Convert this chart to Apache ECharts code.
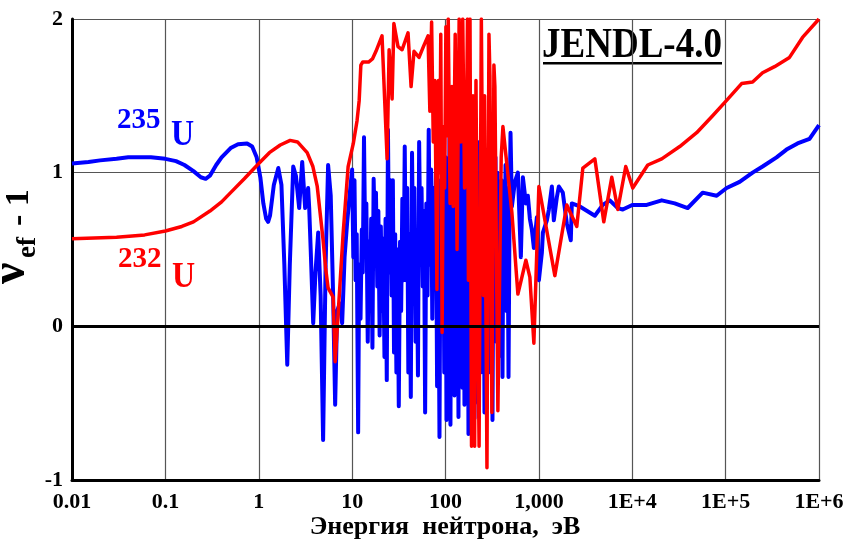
<!DOCTYPE html>
<html>
<head>
<meta charset="utf-8">
<script src="https://cdn.jsdelivr.net/npm/echarts@6/dist/echarts.min.js"></script>
<style>
  html, body { margin: 0; padding: 0; background: #fff; }
  #chart { width: 847px; height: 549px; }
</style>
</head>
<body>
<div id="chart"></div>
<script>
// Neutron energy grid (eV) and nu_ef - 1 values for U-235 (JENDL-4.0)
const u235Energy = [0.01,0.015,0.02,0.03,0.04,0.055,0.07,0.1,0.13,0.16,0.2,0.24,0.27,0.3,0.35,0.4,0.5,0.6,0.75,0.85,0.95,1.04,1.12,1.2,1.26,1.32,1.45,1.62,1.75,1.88,2.02,2.15,2.34,2.5,2.71,2.92,3.14,3.38,3.47,3.6,3.83,4.05,4.33,4.6,4.89,5.2,5.53,5.9,6.26,6.58,6.91,7.4,7.82,8.3,8.83,9.52,
  10.0,10.3,10.6,10.9,11.2,11.6,11.9,12.3,12.7,13.0,13.4,13.8,14.2,14.7,15.1,15.6,16.0,16.5,17.0,17.5,18.0,18.6,19.1,19.7,20.3,20.9,21.5,22.2,22.8,23.5,24.2,24.9,25.7,26.5,27.3,28.1,28.9,29.8,30.7,31.6,32.6,33.5,34.5,35.6,36.6,37.7,38.9,40.0,41.2,42.5,43.8,45.1,46.4,47.8,49.2,50.7,52.2,53.8,55.4,57.1,58.8,60.5,62.3,64.2,66.1,68.1,70.1,72.2,74.4,76.6,78.9,81.3,83.7,86.2,88.8,91.5,94.2,97.0,
  100,102.5,105,107.6,110.3,113,115.8,118.7,121.7,124.8,127.9,131,134.3,137.7,141.1,144.6,148.2,151.9,155.7,159.6,163.6,167.7,171.9,176.2,180.6,185.1,189.7,194.4,199.3,204.3,209.4,214.6,220,225.5,231.1,236.9,242.8,248.9,255.1,261.5,268,274.7,281.6,288.6,295.8,303.2,310.8,318.6,326.6,334.7,343.1,351.7,360.5,369.5,378.7,388.2,397.9,407.8,418,428.5,439.2,450.2,461.4,473,484.8,497,
  514,553,596,641,674,726,762,801,841,884,952,1000,1077,1104,1218,1280,1378,1446,1558,1636,1805,1991,2198,2253,2746,3975,4834,5743,6998,7910,10000,14290,20690,28510,39260,56780,80170,102500,141200,194500,248800,351000,448700,588600,791400,1000000];
const u235Value = [1.06,1.07,1.08,1.09,1.10,1.10,1.10,1.09,1.075,1.05,1.01,0.97,0.96,0.98,1.05,1.10,1.16,1.185,1.19,1.17,1.10,0.97,0.80,0.70,0.68,0.72,0.92,1.03,0.92,0.40,-0.25,0.40,1.04,0.98,0.77,1.07,0.77,0.90,0.77,0.50,0.02,0.35,0.61,0.20,-0.74,0.40,1.05,0.85,0.20,-0.51,0.10,0.15,0.02,0.45,0.67,0.89,
  1.02,0.45,0.95,0.30,0.60,-0.69,0.40,0.05,0.63,0.35,1.23,0.55,0.80,-0.10,0.55,0.15,0.70,-0.14,0.96,0.60,0.87,0.26,0.75,-0.06,0.65,0.10,0.57,-0.20,0.70,-0.35,1.28,0.35,0.95,0.20,0.95,-0.17,0.60,-0.30,0.50,-0.52,0.55,0.10,0.83,0.30,1.17,0.30,0.90,-0.30,0.60,-0.46,1.13,0.40,0.90,-0.10,0.60,-0.32,1.20,0.50,0.90,0.26,0.75,-0.56,0.80,0.20,1.28,0.40,1.02,0.05,0.90,0.30,1.00,-0.39,0.70,-0.72,0.95,0.20,1.20,-0.30,
  1.10,-0.61,0.90,-0.20,1.25,-0.64,1.00,0.10,1.30,-0.45,1.10,-0.30,0.90,-0.59,1.20,0.20,1.15,-0.40,1.28,-0.51,0.80,-0.20,1.20,-0.70,1.10,-0.40,1.30,0.00,0.90,-0.60,1.30,0.30,1.00,-0.50,1.20,-0.30,1.10,0.20,0.90,-0.56,1.15,0.10,0.90,-0.20,1.10,-0.30,0.90,-0.61,0.80,0.20,1.10,-0.10,1.00,-0.20,0.80,0.10,0.95,-0.33,0.90,0.30,1.05,0.10,0.90,-0.33,0.70,1.26,
  0.78,0.94,1.00,0.45,0.97,0.80,0.85,0.70,0.63,0.51,0.71,0.30,0.48,0.61,0.69,0.76,0.91,0.69,0.84,0.91,0.87,0.67,0.56,0.80,0.78,0.72,0.79,0.82,0.77,0.76,0.79,0.79,0.82,0.80,0.77,0.87,0.85,0.90,0.94,1.00,1.04,1.10,1.15,1.19,1.22,1.31];

// Neutron energy grid (eV) and nu_ef - 1 values for U-232 (JENDL-4.0)
const u232Energy = [0.01,0.03,0.06,0.1,0.15,0.2,0.3,0.4,0.5,0.7,1.0,1.3,1.7,2.17,2.6,3.3,3.8,4.23,4.89,5.2,5.53,6.26,6.58,7.08,8.0,9.06,10.3,11.3,11.9,12.4,13,15,16.5,18.0,20.9,23.7,24.9,26.8,28.0,31.0,34.3,39.7,42.8,46,52.1,58,
  65,68,71,74,77,81,84,87,89,92,95,98,101,104,107,112,117,121,127,133,140,146,153,160,168,172,176,183,190,197,205,212,220,229,242,255,262,278,292,299,314,330,338,364,395,412,
  514,596,726,801,884,1000,1483,1991,2547,2956,3975,4955,6037,6998,8518,10120,14660,20690,32240,48980,72600,102500,148300,194500,248800,334300,483100,666200,1000000];
const u232Value = [0.57,0.58,0.595,0.62,0.65,0.68,0.75,0.81,0.87,0.96,1.06,1.13,1.18,1.21,1.20,1.13,1.04,0.91,0.56,0.38,0.25,0.19,-0.23,0.08,0.60,1.04,1.19,1.34,1.47,1.70,1.72,1.72,1.74,1.79,1.89,1.09,1.80,1.48,1.97,1.82,1.80,1.91,1.56,1.79,1.75,1.82,
  1.89,1.40,1.98,1.20,1.60,0.24,1.60,1.00,1.90,-0.04,1.30,0.90,1.95,1.24,2.00,0.80,1.56,0.78,1.90,0.50,2.00,1.20,2.00,0.90,1.35,2.00,0.30,2.00,-0.78,1.50,-0.78,1.60,0.17,-0.78,2.00,0.20,1.50,-0.92,1.90,1.63,-0.56,1.70,1.56,-0.55,1.10,1.30,
  0.74,0.21,0.43,0.32,-0.11,0.91,0.33,0.79,0.65,1.03,1.09,0.68,0.97,0.76,1.04,0.90,1.05,1.09,1.17,1.26,1.37,1.47,1.58,1.59,1.65,1.69,1.75,1.88,2.00];

// Axis tick labels
const xTickLabels = ['0.01','0.1','1','10','100','1,000','1E+4','1E+5','1E+6'];
const yTickLabels = {'-1':'-1','0':'0','1':'1','2':'2'};

const FONT = "'Liberation Serif', 'Times New Roman', serif";

function zip(xs, ys) { return xs.map((x, i) => [x, ys[i]]); }

const chart = echarts.init(document.getElementById('chart'), null, { renderer: 'canvas' });

chart.setOption({
  animation: false,
  backgroundColor: '#ffffff',
  grid: { left: 72, right: 28, top: 19, bottom: 69 },
  xAxis: {
    type: 'log',
    logBase: 10,
    min: 0.01,
    max: 1e6,
    axisLine: { show: true, onZero: false, lineStyle: { color: '#000', width: 3 } },
    axisTick: { show: false },
    minorTick: { show: false },
    splitLine: { show: true, lineStyle: { color: '#555', width: 1.2 } },
    axisLabel: {
      margin: 11,
      color: '#000',
      fontFamily: FONT,
      fontWeight: 'bold',
      fontSize: 22,
      showMinLabel: true,
      showMaxLabel: true,
      formatter: v => xTickLabels[Math.round(Math.log10(v)) + 2]
    }
  },
  yAxis: {
    type: 'value',
    min: -1,
    max: 2,
    interval: 1,
    axisLine: { show: true, onZero: false, lineStyle: { color: '#000', width: 3 } },
    axisTick: { show: false },
    splitLine: { show: true, lineStyle: { color: '#555', width: 1.2 } },
    axisLabel: {
      margin: 9,
      color: '#000',
      fontFamily: FONT,
      fontWeight: 'bold',
      fontSize: 22,
      formatter: v => yTickLabels[String(Math.round(v))]
    }
  },
  series: [
    {
      name: '235U',
      type: 'line',
      data: zip(u235Energy, u235Value),
      showSymbol: false,
      symbol: 'none',
      smooth: false,
      lineStyle: { color: '#0000ff', width: 4, join: 'round' },
      z: 3
    },
    {
      name: '232U',
      type: 'line',
      data: zip(u232Energy, u232Value),
      showSymbol: false,
      symbol: 'none',
      smooth: false,
      lineStyle: { color: '#ff0000', width: 3.5, join: 'round' },
      z: 4
    },
    {
      name: 'zero',
      type: 'line',
      data: [],
      z: 5,
      markLine: {
        silent: true,
        symbol: 'none',
        label: { show: false },
        lineStyle: { color: '#000', width: 3, type: 'solid' },
        data: [{ yAxis: 0 }]
      }
    }
  ],
  graphic: [
    // y-axis title: nu_ef - 1, reading upward
    {
      type: 'group',
      x: 36, y: 284,
      rotation: Math.PI / 2,
      children: [
        { type: 'text', style: { x: 0, y: 0, text: 'ν', font: 'bold 48px ' + FONT, fill: '#000', textAlign: 'left', textVerticalAlign: 'bottom', align: 'left', verticalAlign: 'bottom' } },
        { type: 'text', style: { x: 26, y: 6, text: 'ef', font: 'bold 27px ' + FONT, fill: '#000', textAlign: 'left', textVerticalAlign: 'bottom', align: 'left', verticalAlign: 'bottom' } },
        { type: 'text', style: { x: 58, y: 0, text: '- 1', font: 'bold 34px ' + FONT, fill: '#000', textAlign: 'left', textVerticalAlign: 'bottom', align: 'left', verticalAlign: 'bottom' } }
      ]
    },
    // x-axis title
    {
      type: 'text',
      x: 445, y: 527,
      style: { text: 'Энергия  нейтрона,  эВ', font: 'bold 26px ' + FONT, fill: '#000', textAlign: 'center', textVerticalAlign: 'middle', align: 'center', verticalAlign: 'middle' }
    },
    // data library tag
    {
      type: 'text',
      x: 632, y: 46, scaleY: 1.12,
      style: { text: 'JENDL-4.0', font: 'bold 37px ' + FONT, fill: '#000', textAlign: 'center', textVerticalAlign: 'middle', align: 'center', verticalAlign: 'middle' }
    },
    {
      type: 'rect',
      shape: { x: 543, y: 62, width: 179, height: 2.5 },
      style: { fill: '#000' }
    },
    // isotope labels
    {
      type: 'text', x: 117, y: 121,
      style: { text: '235', font: 'bold 29px ' + FONT, fill: '#0000ff', textAlign: 'left', textVerticalAlign: 'middle', align: 'left', verticalAlign: 'middle' }
    },
    {
      type: 'text', x: 171, y: 135, scaleY: 1.15,
      style: { text: 'U', font: 'bold 32px ' + FONT, fill: '#0000ff', textAlign: 'left', textVerticalAlign: 'middle', align: 'left', verticalAlign: 'middle' }
    },
    {
      type: 'text', x: 118, y: 260,
      style: { text: '232', font: 'bold 29px ' + FONT, fill: '#ff0000', textAlign: 'left', textVerticalAlign: 'middle', align: 'left', verticalAlign: 'middle' }
    },
    {
      type: 'text', x: 172, y: 277, scaleY: 1.15,
      style: { text: 'U', font: 'bold 32px ' + FONT, fill: '#ff0000', textAlign: 'left', textVerticalAlign: 'middle', align: 'left', verticalAlign: 'middle' }
    }
  ]
});
</script>
</body>
</html>
